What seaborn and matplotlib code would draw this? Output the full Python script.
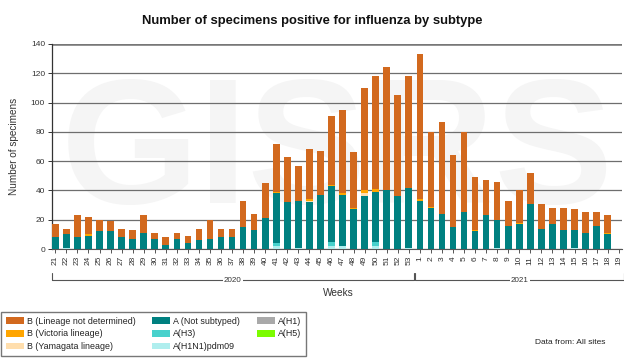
import matplotlib
matplotlib.use("Agg")
import matplotlib.pyplot as plt
from matplotlib.patches import Patch
import matplotlib.transforms as mtransforms
import seaborn as sns
import numpy as np

# epi weeks: 2020 wk 21-53, 2021 wk 1-19
weeks_2020 = list(range(21, 54))
weeks_2021 = list(range(1, 20))

b_not_determined = [9, 4, 15, 12, 8, 7, 6, 6, 12, 4,
                    5, 4, 5, 8, 13, 6, 6, 18, 11, 24,
                    33, 31, 24, 34, 30, 47, 57, 38, 70, 77,
                    84, 69, 76,
                    99, 51, 63, 49, 55, 36, 24, 26, 17, 22,
                    21, 17, 11, 15, 14, 14, 9, 12, 0]
b_victoria = [0, 0, 0, 1, 0, 0, 0, 0, 0, 0,
              0, 0, 0, 0, 0, 0, 0, 0, 0, 0,
              1, 0, 0, 1, 0, 1, 1, 1, 2, 2,
              0, 0, 0,
              1, 1, 0, 0, 0, 1, 0, 0, 0, 1,
              0, 0, 0, 0, 0, 0, 0, 1, 0]
b_yamagata = [0, 0, 0, 0, 0, 0, 0, 0, 0, 0,
              0, 0, 0, 0, 0, 0, 0, 0, 0, 0,
              0, 0, 0, 1, 0, 0, 0, 0, 2, 0,
              0, 0, 0,
              0, 0, 0, 0, 0, 0, 0, 0, 0, 0,
              0, 0, 0, 0, 0, 0, 0, 0, 0]
a_not_subtyped = [8, 9, 8, 9, 12, 12, 8, 7, 11, 7,
                  3, 7, 4, 6, 7, 8, 8, 15, 13, 21,
                  34, 32, 32, 32, 37, 38, 35, 27, 36, 34,
                  40, 36, 41,
                  33, 28, 24, 15, 25, 12, 23, 19, 16, 17,
                  31, 14, 17, 13, 12, 11, 16, 10, 0]
a_h3 = [0, 0, 0, 0, 0, 0, 0, 0, 0, 0,
        0, 0, 0, 0, 0, 0, 0, 0, 0, 0,
        2, 0, 0, 0, 0, 3, 0, 0, 0, 3,
        0, 0, 0,
        0, 0, 0, 0, 0, 0, 0, 0, 0, 0,
        0, 0, 0, 0, 0, 0, 0, 0, 0]
a_h1n1pdm09 = [0, 1, 0, 0, 0, 0, 0, 0, 0, 0,
               0, 0, 0, 0, 0, 0, 0, 0, 0, 0,
               2, 0, 1, 0, 0, 2, 2, 0, 0, 2,
               0, 0, 1,
               0, 0, 0, 0, 0, 0, 0, 1, 0, 0,
               0, 0, 0, 0, 1, 0, 0, 0, 0]
a_h1 = [0] * 52
a_h5 = [0] * 52

keys = [f"2020-{w}" for w in weeks_2020] + [f"2021-{w}" for w in weeks_2021]
week_labels = [str(w) for w in weeks_2020 + weeks_2021]

# stack order, bottom -> top
series = [
    ("A(H1N1)pdm09", a_h1n1pdm09, "#afeeee"),
    ("A(H3)", a_h3, "#48d1cc"),
    ("A(H1)", a_h1, "#a9a9a9"),
    ("A(H5)", a_h5, "#7cfc00"),
    ("A (Not subtyped)", a_not_subtyped, "#008080"),
    ("B (Yamagata lineage)", b_yamagata, "#ffdead"),
    ("B (Victoria lineage)", b_victoria, "#ffa500"),
    ("B (Lineage not determined)", b_not_determined, "#d2691e"),
]
colors = {name: col for name, _, col in series}

sns.set_style("white")
plt.rcParams['font.family'] = ['Liberation Sans', 'DejaVu Sans']

fig = plt.figure(figsize=(6.24, 3.61), dpi=100)
ax = fig.add_axes([52 / 624, 1 - 249 / 361, 570 / 624, 205 / 361])

# watermark
ax.text(0.5, 0.45, "GISRS", transform=ax.transAxes, ha="center", va="center",
        fontsize=128, fontweight="bold", color="#f5f5f5", zorder=0)

# stacked bars: draw cumulative totals from the top layer down
tops = np.cumsum(np.array([s for _, s, _ in series]), axis=0)
for (name, _, col), top in reversed(list(zip(series, tops))):
    sns.barplot(x=keys, y=top, order=keys, color=col, width=0.6, saturation=1,
                errorbar=None, linewidth=0, ax=ax, zorder=3)

ax.set_xlim(-0.3, 51.3)
ax.set_ylim(0, 140)
ax.set_yticks(range(0, 141, 20))
ax.grid(axis="y", color="#6e6e6e", linewidth=0.9, zorder=1)
ax.set_axisbelow(True)
ax.axhline(140, color="#777777", linewidth=1.8, zorder=2)
for s in ["top", "right"]:
    ax.spines[s].set_visible(False)
ax.spines["left"].set_color("#333333")
ax.spines["bottom"].set_color("#555555")
ax.spines["left"].set_linewidth(0.9)

ax.set_xticks(range(len(keys)))
ax.set_xticklabels(week_labels, rotation=90, fontsize=6, color="#333333")
ax.tick_params(axis="x", length=3, width=0.7, color="#555555", pad=2, bottom=True)
ax.tick_params(axis="y", length=3, width=0.7, color="#333333", pad=2, left=True,
               labelsize=6, labelcolor="#333333")

ax.set_xlabel("Weeks", fontsize=7.3, color="#333333", va="center")
ax.xaxis.set_label_coords(0.503, -0.215)
ax.set_ylabel("Number of specimens", fontsize=7.2, color="#333333", va="center")
ax.yaxis.set_label_coords(-0.067, 0.5)

# year brackets under the week labels
trans = mtransforms.blended_transform_factory(ax.transData, ax.transAxes)
y_line = -(280 - 249) / 205
y_tick = -(273 - 249) / 205
for x0, x1, yr in [(-0.3, 32.45, "2020"), (32.6, 51.5, "2021")]:
    ax.plot([x0, x1], [y_line, y_line], transform=trans, color="#555555",
            linewidth=0.8, clip_on=False)
    ax.plot([x0, x0], [y_tick, y_line], transform=trans, color="#555555",
            linewidth=0.8, clip_on=False)
    ax.plot([x1, x1], [y_tick, y_line], transform=trans, color="#555555",
            linewidth=0.8, clip_on=False)
    ax.text((x0 + x1) / 2, y_line, yr, transform=trans, ha="center", va="center",
            fontsize=5.8, color="#333333",
            bbox=dict(facecolor="white", edgecolor="none", pad=1))

fig.text(0.5, 1 - 21 / 361, "Number of specimens positive for influenza by subtype",
         ha="center", va="center", fontsize=9.4, fontweight="bold", color="#111111")

legend_order = ["B (Lineage not determined)", "B (Victoria lineage)", "B (Yamagata lineage)",
                "A (Not subtyped)", "A(H3)", "A(H1N1)pdm09", "A(H1)", "A(H5)"]
handles = [Patch(facecolor=colors[n], edgecolor="none") for n in legend_order]
leg = fig.legend(handles, legend_order, ncol=3, loc="lower left",
                 bbox_to_anchor=(1 / 624, 5 / 361), bbox_transform=fig.transFigure,
                 borderaxespad=0, fontsize=6.4, handlelength=2.0, handleheight=0.8,
                 handletextpad=0.35, columnspacing=1.9, labelspacing=0.42,
                 fancybox=False, frameon=True, borderpad=0.55)
leg.get_frame().set_edgecolor("#555555")
leg.get_frame().set_linewidth(1.0)
for t in leg.get_texts():
    t.set_color("#222222")

fig.text(605 / 624, 1 - 343 / 361, "Data from: All sites", ha="right", va="center",
         fontsize=6, color="#222222")

fig.savefig("out.png", dpi=100)
